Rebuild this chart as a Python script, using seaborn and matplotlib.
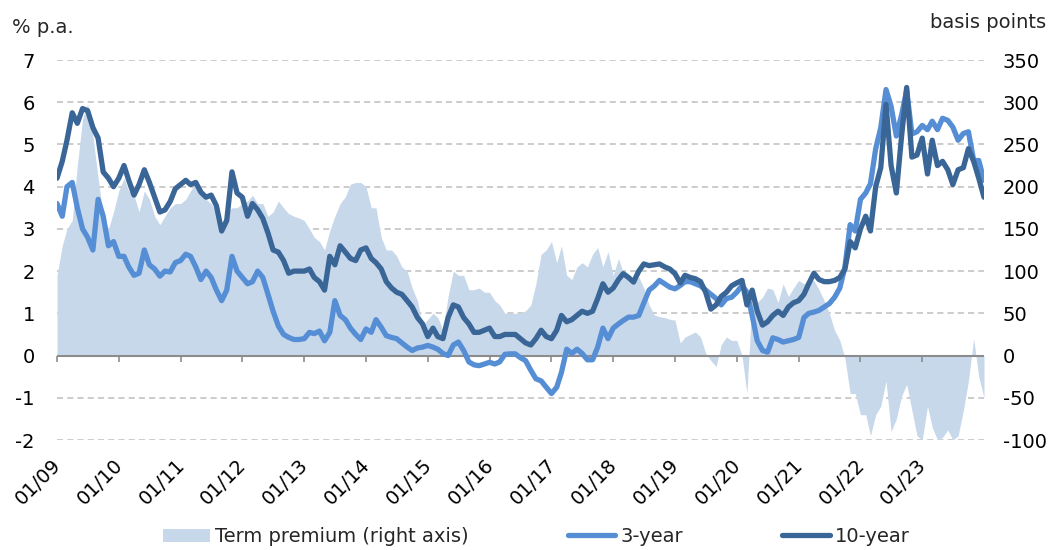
import pandas as pd
import matplotlib
matplotlib.use("Agg")
import matplotlib.pyplot as plt
import matplotlib.dates as mdates
import matplotlib.transforms as mtransforms
from matplotlib.patches import Patch
from matplotlib.lines import Line2D
import seaborn as sns

# monthly observations, Jan 2009 .. Dec 2023 (last point = end of Dec 2023)
start_month = "2009-01-01"
end_month = "2024-01-01"
tick_years = list(range(2009, 2024))

# 10-year yield, % p.a.
yield_10y = [
    4.2, 4.6, 5.1, 5.75, 5.5, 5.85, 5.8, 5.4, 5.15, 4.35, 4.2, 4.0,      # 2009
    4.2, 4.5, 4.15, 3.8, 4.05, 4.4, 4.1, 3.75, 3.4, 3.45, 3.65, 3.95,    # 2010
    4.05, 4.15, 4.05, 4.1, 3.87, 3.75, 3.8, 3.55, 2.95, 3.2, 4.35, 3.85, # 2011
    3.75, 3.3, 3.6, 3.45, 3.25, 2.9, 2.5, 2.45, 2.25, 1.95, 2.0, 2.0,    # 2012
    2.0, 2.05, 1.85, 1.75, 1.55, 2.35, 2.15, 2.6, 2.45, 2.3, 2.25, 2.5,  # 2013
    2.55, 2.3, 2.2, 2.05, 1.75, 1.6, 1.5, 1.45, 1.3, 1.15, 0.9, 0.75,    # 2014
    0.45, 0.65, 0.45, 0.4, 0.9, 1.2, 1.15, 0.9, 0.75, 0.55, 0.55, 0.6,   # 2015
    0.65, 0.45, 0.45, 0.5, 0.5, 0.5, 0.4, 0.3, 0.25, 0.4, 0.6, 0.45,     # 2016
    0.4, 0.6, 0.95, 0.8, 0.85, 0.95, 1.05, 1.0, 1.05, 1.35, 1.7, 1.5,    # 2017
    1.6, 1.8, 1.94, 1.85, 1.74, 2.0, 2.17, 2.13, 2.15, 2.17, 2.1, 2.05,  # 2018
    1.94, 1.72, 1.9, 1.85, 1.82, 1.75, 1.5, 1.1, 1.2, 1.4, 1.5, 1.65,    # 2019
    1.72, 1.78, 1.2, 1.55, 1.05, 0.72, 0.8, 0.95, 1.05, 0.95, 1.15, 1.25, # 2020
    1.3, 1.45, 1.7, 1.95, 1.8, 1.75, 1.75, 1.78, 1.85, 2.05, 2.7, 2.55,  # 2021
    3.0, 3.3, 2.95, 4.0, 4.45, 5.95, 4.5, 3.85, 5.2, 6.35, 4.7, 4.75,    # 2022
    5.15, 4.3, 5.1, 4.5, 4.6, 4.4, 4.05, 4.4, 4.45, 4.9, 4.6, 4.2,       # 2023
    3.75,
]

# 3-year yield, % p.a.
yield_3y = [
    3.6, 3.3, 4.0, 4.1, 3.5, 3.0, 2.8, 2.5, 3.7, 3.3, 2.6, 2.7,
    2.35, 2.35, 2.1, 1.9, 1.95, 2.5, 2.15, 2.05, 1.88, 2.0, 1.98, 2.2,
    2.25, 2.4, 2.35, 2.1, 1.8, 2.0, 1.85, 1.55, 1.3, 1.55, 2.35, 2.0,
    1.85, 1.7, 1.75, 2.0, 1.85, 1.45, 1.05, 0.7, 0.5, 0.43, 0.38, 0.38,
    0.4, 0.55, 0.52, 0.58, 0.35, 0.55, 1.3, 0.95, 0.85, 0.65, 0.5, 0.38,
    0.63, 0.55, 0.85, 0.67, 0.47, 0.43, 0.4, 0.3, 0.2, 0.12, 0.18, 0.2,
    0.24, 0.2, 0.15, 0.05, 0.0, 0.25, 0.32, 0.12, -0.15, -0.22, -0.24, -0.2,
    -0.16, -0.2, -0.15, 0.03, 0.04, 0.04, -0.05, -0.12, -0.35, -0.55, -0.6, -0.75,
    -0.9, -0.75, -0.4, 0.15, 0.05, 0.15, 0.05, -0.1, -0.1, 0.2, 0.65, 0.4,
    0.65, 0.75, 0.83, 0.91, 0.91, 0.95, 1.25, 1.55, 1.65, 1.78, 1.7, 1.62,
    1.58, 1.66, 1.75, 1.75, 1.7, 1.65, 1.55, 1.45, 1.35, 1.2, 1.35, 1.38,
    1.5, 1.66, 1.5, 0.95, 0.35, 0.12, 0.08, 0.42, 0.38, 0.32, 0.35, 0.38,
    0.43, 0.9, 1.0, 1.03, 1.07, 1.15, 1.23, 1.38, 1.6, 2.09, 3.1, 2.95,
    3.7, 3.85, 4.07, 4.9, 5.4, 6.3, 5.9, 5.2, 5.7, 6.28, 5.25, 5.3,
    5.45, 5.35, 5.55, 5.35, 5.62, 5.57, 5.41, 5.1, 5.26, 5.3, 4.62, 4.62,
    4.15,
]

# term premium, basis points (right axis)
term_premium = [
    95, 130, 150, 160, 225, 280, 298, 260, 210, 165, 150, 170,
    195, 210, 195, 190, 170, 195, 185, 165, 155, 165, 175, 180,
    180, 185, 195, 205, 200, 185, 180, 170, 155, 170, 175, 175,
    180, 183, 190, 180, 180, 165, 170, 183, 175, 168, 165, 163,
    160, 150, 140, 135, 125, 148, 165, 180, 188, 203, 205, 205,
    200, 175, 175, 140, 125, 125, 118, 105, 100, 80, 65, 35,
    43, 50, 45, 30, 70, 100, 95, 95, 78, 78, 80, 75,
    75, 65, 60, 50, 50, 50, 50, 53, 60, 85, 120, 125,
    135, 110, 130, 95, 90, 105, 110, 105, 120, 128, 105, 123,
    95, 115, 98, 90, 85, 93, 80, 60, 48, 46, 45, 43,
    42, 15, 22, 25, 28, 22, 3, -6, -13, 13, 22, 18,
    18, 0, -45, 69, 63, 69, 80, 78, 63, 85, 70, 80,
    89, 85, 88, 89, 78, 65, 50, 30, 18, -3, -45, -45,
    -70, -70, -95, -70, -60, -30, -90, -75, -48, -34, -65, -95,
    -100, -60, -85, -100, -97, -88, -100, -95, -65, -30, 20, -25,
    -50,
]

df = pd.DataFrame({
    "date": pd.date_range(start_month, end_month, freq="MS"),
    "3-year": yield_3y,
    "10-year": yield_10y,
    "term_premium": term_premium,
})
tick_dates = [pd.Timestamp(year=y, month=1, day=1) for y in tick_years]

col_area = "#c8d8eb"
col_3y = "#558ed5"
col_10y = "#3a6597"
col_grid = "#bfbfbf"
col_axis = "#8c8c8c"

sns.set_theme(style="white")
plt.rcParams["font.family"] = ["DejaVu Sans"]
plt.rcParams["axes.unicode_minus"] = False
fs = 14

fig = plt.figure(figsize=(10.53, 5.5), dpi=100)
ax1 = fig.add_axes([57 / 1053, 110 / 550, 927 / 1053, 380 / 550])
ax2 = ax1.twinx()

# area on right axis, kept behind the lines
ax1.set_zorder(2)
ax1.patch.set_visible(False)
ax2.set_zorder(1)
ax2.fill_between(df["date"], 0, df["term_premium"], color=col_area, lw=0, zorder=2)
ax2.set_ylim(-100, 350)
ax2.set_yticks(range(-100, 351, 50))
ax2.yaxis.grid(True, color=col_grid, lw=1.1, linestyle=(0, (4, 2.7)), zorder=0)
ax2.set_axisbelow(True)
ax2.tick_params(axis="y", length=0, pad=13.5, labelsize=fs, colors="black")
ax2.set_ylabel("")

sns.lineplot(data=df, x="date", y="3-year", color=col_3y, lw=3.8, ax=ax1)
sns.lineplot(data=df, x="date", y="10-year", color=col_10y, lw=3.8, ax=ax1)
ax1.axhline(0, color=col_axis, lw=1.5, zorder=1)

ax1.set_ylim(-2, 7)
ax1.set_yticks(range(-2, 8))
ax1.set_xlim(pd.Timestamp(start_month), pd.Timestamp(end_month))
ax1.set_xlabel("")
ax1.set_ylabel("")
ax1.tick_params(axis="y", length=0, pad=16, labelsize=fs, colors="black")

ax1.set_xticks(tick_dates)
ax1.xaxis.set_major_formatter(mdates.DateFormatter("%m/%y"))
ax1.tick_params(axis="x", length=0, pad=11, labelsize=fs, colors="black")
shift = mtransforms.ScaledTranslation(-4 / 72, 0, fig.dpi_scale_trans)
for lbl in ax1.get_xticklabels():
    lbl.set_rotation(45)
    lbl.set_ha("right")
    lbl.set_rotation_mode("anchor")
    lbl.set_transform(lbl.get_transform() + shift)

for ax in (ax1, ax2):
    for s in ax.spines.values():
        s.set_visible(False)

# tick marks hanging off the zero line
secax = ax1.secondary_xaxis(2 / 9)
secax.set_xticks(tick_dates)
secax.xaxis.set_major_formatter(plt.NullFormatter())
secax.tick_params(axis="x", direction="out", length=4, width=1.2, color=col_axis)
for s in secax.spines.values():
    s.set_visible(False)

fig.text(12 / 1053, 1 - 33 / 550, "% p.a.", fontsize=fs, ha="left", va="baseline")
fig.text(1046 / 1053, 1 - 28 / 550, "basis points", fontsize=fs, ha="right", va="baseline")

handles = [
    Patch(facecolor=col_area, edgecolor="none", label="Term premium (right axis)"),
    Line2D([], [], color=col_3y, lw=3.8, label="3-year"),
    Line2D([], [], color=col_10y, lw=3.8, label="10-year"),
]
fig.legend(handles=handles, loc="center", bbox_to_anchor=(536 / 1053, 0.024), ncol=3,
           frameon=False, fontsize=fs, handlelength=2.45, handletextpad=0.25,
           columnspacing=5.1)

fig.savefig("out.png", dpi=100)
